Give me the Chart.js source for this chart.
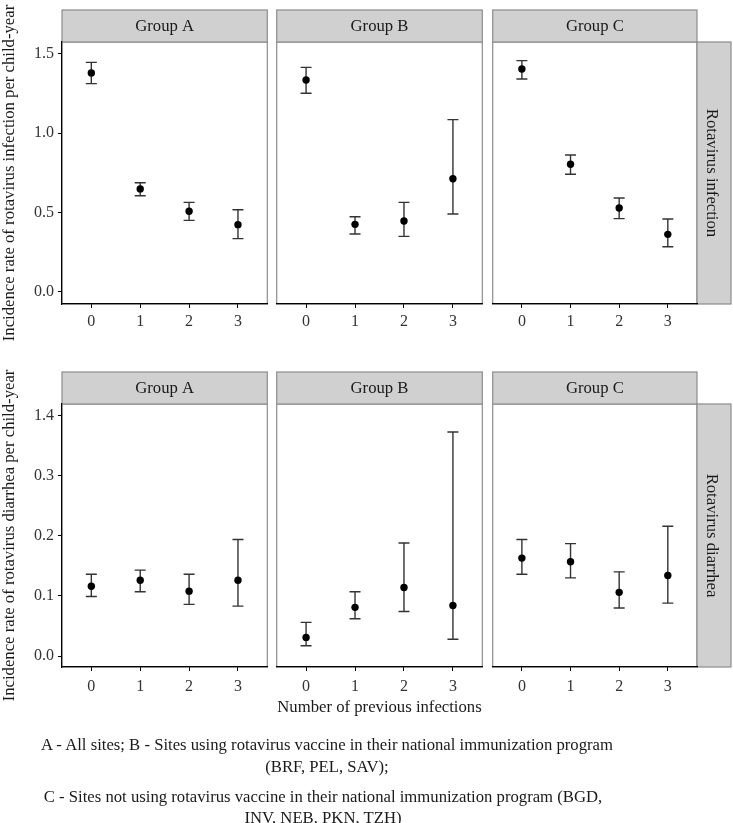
<!DOCTYPE html>
<html>
<head>
<meta charset="utf-8">
<script src="https://cdn.jsdelivr.net/npm/chart.js"></script>
<style>
  body { margin: 0; background: #fff; width: 733px; height: 823px; position: relative; overflow: hidden; font-family: "Liberation Serif", serif; }
  .panel { position: absolute; }
  .cap { position: absolute; text-align: center; font-size: 16.7px; line-height: 20px; color: #1a1a1a; white-space: nowrap; }
  .capA { left: 0; width: 654px; }
  .capC { left: 0; width: 646px; }
</style>
</head>
<body>
<div class="panel" id="p0" style="left:0;top:0;width:271px;height:370px"><canvas id="c0"></canvas></div>
<div class="panel" id="p1" style="left:273px;top:0;width:213px;height:370px"><canvas id="c1"></canvas></div>
<div class="panel" id="p2" style="left:489px;top:0;width:243px;height:370px"><canvas id="c2"></canvas></div>
<div class="panel" id="p3" style="left:0;top:360px;width:271px;height:400px"><canvas id="c3"></canvas></div>
<div class="panel" id="p4" style="left:273px;top:360px;width:213px;height:400px"><canvas id="c4"></canvas></div>
<div class="panel" id="p5" style="left:489px;top:360px;width:243px;height:400px"><canvas id="c5"></canvas></div>

<div class="cap capA" style="top:735px">A - All sites; B - Sites using rotavirus vaccine in their national immunization program</div>
<div class="cap capA" style="top:757px">(BRF, PEL, SAV);</div>
<div class="cap capC" style="top:787px">C - Sites not using rotavirus vaccine in their national immunization program (BGD,</div>
<div class="cap capC" style="top:808px">INV, NEB, PKN, TZH)</div>

<script>
const prevInfections = [0, 1, 2, 3];
const groups = ["Group A", "Group B", "Group C"];
const outcomes = ["Rotavirus infection", "Rotavirus diarrhea"];

// rotavirus infection: estimate, lower, upper
const infA = [1.379, 0.649, 0.508, 0.424];
const infALow = [1.312, 0.606, 0.451, 0.336];
const infAHigh = [1.446, 0.688, 0.564, 0.518];
const infB = [1.335, 0.426, 0.447, 0.713];
const infBLow = [1.251, 0.365, 0.350, 0.491];
const infBHigh = [1.414, 0.474, 0.564, 1.085];
const infC = [1.404, 0.804, 0.529, 0.363];
const infCLow = [1.341, 0.741, 0.462, 0.285];
const infCHigh = [1.457, 0.863, 0.592, 0.460];

// rotavirus diarrhea
const diaA = [0.116, 0.126, 0.108, 0.126];
const diaALow = [0.099, 0.107, 0.086, 0.083];
const diaAHigh = [0.136, 0.143, 0.136, 0.194];
const diaB = [0.031, 0.081, 0.114, 0.084];
const diaBLow = [0.017, 0.062, 0.074, 0.028];
const diaBHigh = [0.056, 0.107, 0.188, 0.373];
const diaC = [0.163, 0.157, 0.106, 0.134];
const diaCLow = [0.136, 0.130, 0.080, 0.088];
const diaCHigh = [0.194, 0.187, 0.140, 0.216];

const infTicks = [0, 0.5, 1.0, 1.5];
const infTickLabels = ["0.0", "0.5", "1.0", "1.5"];
const diaTicks = [0, 0.1, 0.2, 0.3, 0.4];
const diaTickLabels = ["0.0", "0.1", "0.2", "0.3", "1.4"];

const FONT = "'Liberation Serif', serif";

const errorBars = {
  id: 'errorBars',
  beforeDatasetsDraw(chart) {
    const ctx = chart.ctx;
    const x = chart.scales.x, y = chart.scales.y;
    chart.data.datasets.forEach(ds => {
      ctx.save();
      ctx.strokeStyle = '#333';
      ctx.lineWidth = 1.4;
      ds.data.forEach((p, i) => {
        const px = x.getPixelForValue(p.x);
        const yl = y.getPixelForValue(ds.low[i]);
        const yh = y.getPixelForValue(ds.high[i]);
        ctx.beginPath();
        ctx.moveTo(px, yl); ctx.lineTo(px, yh);
        ctx.moveTo(px - 5.5, yl); ctx.lineTo(px + 5.5, yl);
        ctx.moveTo(px - 5.5, yh); ctx.lineTo(px + 5.5, yh);
        ctx.stroke();
      });
      ctx.restore();
    });
  }
};

const facet = {
  id: 'facet',
  beforeDraw(chart, args, opts) {
    const ctx = chart.ctx;
    const a = chart.chartArea;
    ctx.save();
    ctx.strokeStyle = '#8c8c8c';
    ctx.lineWidth = 1.2;
    ctx.strokeRect(a.left, a.top, a.right - a.left, a.bottom - a.top);
    // top strip
    ctx.fillStyle = '#d0d0d0';
    ctx.fillRect(a.left, a.top - 32, a.right - a.left, 32);
    ctx.strokeRect(a.left, a.top - 32, a.right - a.left, 32);
    ctx.fillStyle = '#1a1a1a';
    ctx.font = '16.7px ' + FONT;
    ctx.textAlign = 'center';
    ctx.textBaseline = 'middle';
    ctx.fillText(opts.title, (a.left + a.right) / 2, a.top - 15.5);
    if (opts.side) {
      ctx.fillStyle = '#d0d0d0';
      ctx.fillRect(a.right, a.top, 34, a.bottom - a.top);
      ctx.strokeRect(a.right, a.top, 34, a.bottom - a.top);
      ctx.translate(a.right + 14, (a.top + a.bottom) / 2);
      ctx.rotate(Math.PI / 2);
      ctx.fillStyle = '#1a1a1a';
      ctx.fillText(opts.side, 0, 0);
    }
    ctx.restore();
  }
};

function makePanel(id, row, col, est, low, high) {
  const left = col === 0;
  const right = col === 2;
  const ticks = row === 0 ? infTicks : diaTicks;
  const tickLabels = row === 0 ? infTickLabels : diaTickLabels;
  const yMin = row === 0 ? -0.0756 : -0.0183;
  const yMax = row === 0 ? 1.574 : 0.4195;
  const yTitle = row === 0 ? 'Incidence rate of rotavirus infection per child-year'
                           : 'Incidence rate of rotavirus diarrhea per child-year';
  const xAxisH = row === 0 ? 30 : 55;
  const padTop = row === 0 ? 42 : 44;
  const padBottom = row === 0 ? 36 : 38;
  const xTickPad = row === 0 ? 4 : 6;

  new Chart(document.getElementById(id), {
    type: 'scatter',
    data: {
      datasets: [{
        data: prevInfections.map((v, i) => ({ x: v, y: est[i] })),
        low: low,
        high: high,
        pointRadius: 3.7,
        pointHoverRadius: 3.7,
        backgroundColor: '#000',
        borderColor: '#000',
        borderWidth: 0
      }]
    },
    options: {
      responsive: true,
      maintainAspectRatio: false,
      animation: false,
      events: [],
      layout: { padding: { top: padTop, bottom: padBottom, left: 0, right: right ? 35 : 0 } },
      plugins: {
        legend: { display: false },
        tooltip: { enabled: false },
        facet: { title: groups[col], side: right ? outcomes[row] : null }
      },
      scales: {
        x: {
          type: 'linear',
          min: -0.6,
          max: 3.6,
          afterBuildTicks: s => { s.ticks = prevInfections.map(v => ({ value: v })); },
          afterFit: s => { s.height = xAxisH; },
          ticks: { color: '#333', font: { family: FONT, size: 16 }, padding: xTickPad, maxRotation: 0, callback: v => String(v) },
          grid: { drawOnChartArea: false, drawTicks: true, tickLength: 4, color: '#000' },
          border: { display: true, color: '#000', width: 1.2 },
          title: {
            display: row === 1 && col === 1,
            text: 'Number of previous infections',
            color: '#1a1a1a',
            font: { family: FONT, size: 16.7 },
            padding: { top: 0, bottom: 4 }
          }
        },
        y: {
          display: left,
          min: yMin,
          max: yMax,
          afterBuildTicks: s => { s.ticks = ticks.map(v => ({ value: v })); },
          afterFit: s => { if (left) s.width = 62; },
          ticks: {
            color: '#333',
            font: { family: FONT, size: 16 },
            padding: 4,
            callback: (v) => tickLabels[ticks.findIndex(t => Math.abs(t - v) < 1e-9)]
          },
          grid: { drawOnChartArea: false, drawTicks: true, tickLength: 4, color: '#000' },
          border: { display: true, color: '#000', width: 1.2 },
          title: {
            display: true,
            text: yTitle,
            color: '#1a1a1a',
            font: { family: FONT, size: 16.7 },
            padding: { top: 0, bottom: 0 }
          }
        }
      }
    },
    plugins: [facet, errorBars]
  });
}

makePanel('c0', 0, 0, infA, infALow, infAHigh);
makePanel('c1', 0, 1, infB, infBLow, infBHigh);
makePanel('c2', 0, 2, infC, infCLow, infCHigh);
makePanel('c3', 1, 0, diaA, diaALow, diaAHigh);
makePanel('c4', 1, 1, diaB, diaBLow, diaBHigh);
makePanel('c5', 1, 2, diaC, diaCLow, diaCHigh);
</script>
</body>
</html>
